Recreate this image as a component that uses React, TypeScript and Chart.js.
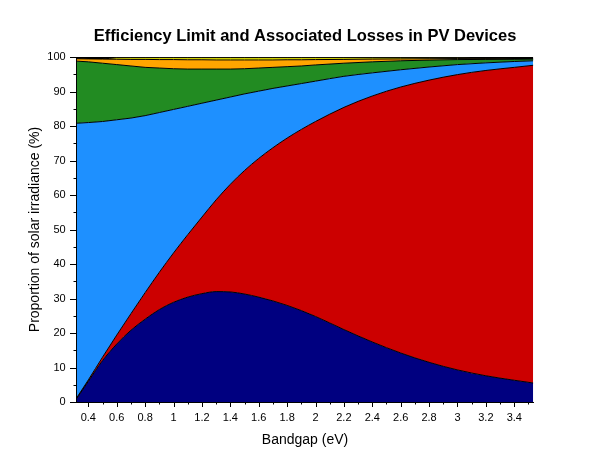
import React, { useEffect, useRef } from 'react';
import { Chart, registerables } from 'chart.js';

Chart.register(...registerables);

// Bandgap (eV) sample positions
const bandgap = [0.318, 0.4, 0.5, 0.6, 0.7, 0.8, 0.9, 1.0, 1.1, 1.2, 1.3, 1.4, 1.5, 1.6, 1.7, 1.8, 1.9, 2.0, 2.2, 2.4, 2.6, 2.8, 3.0, 3.2, 3.4, 3.534];

// Upper boundary (cumulative %) of each band, bottom to top
const efficiencyTop = [1.0, 6.0, 12.0, 16.8, 20.8, 24.0, 26.8, 28.9, 30.4, 31.4, 32.0, 31.9, 31.3, 30.4, 29.3, 28.0, 26.5, 24.8, 21.0, 17.4, 14.2, 11.5, 9.3, 7.6, 6.3, 5.5];
const belowGapTop = [1.2, 6.4, 13.0, 19.4, 25.6, 31.7, 37.6, 43.2, 48.5, 53.6, 58.6, 63.1, 67.1, 70.6, 73.7, 76.5, 79.0, 81.3, 85.4, 88.7, 91.3, 93.3, 94.9, 96.1, 97.0, 97.6];
const thermalTop = [80.8, 81.0, 81.3, 81.8, 82.3, 83.0, 83.9, 84.8, 85.7, 86.6, 87.5, 88.4, 89.3, 90.1, 90.9, 91.6, 92.3, 93.0, 94.4, 95.4, 96.3, 97.1, 97.8, 98.3, 98.7, 98.9];
const extractionTop = [98.8, 98.6, 98.2, 97.8, 97.4, 97.0, 96.8, 96.6, 96.5, 96.5, 96.5, 96.5, 96.6, 96.8, 97.0, 97.2, 97.4, 97.7, 98.2, 98.6, 98.9, 99.1, 99.25, 99.3, 99.35, 99.4];
const boltzmannTop = [99.5, 99.45, 99.4, 99.35, 99.3, 99.3, 99.25, 99.25, 99.2, 99.2, 99.15, 99.15, 99.15, 99.15, 99.15, 99.2, 99.2, 99.25, 99.3, 99.4, 99.45, 99.5, 99.55, 99.5, 99.45, 99.4];
const emissionTop = [99.5, 99.45, 99.42, 99.8, 99.8, 99.8, 99.8, 99.8, 99.8, 99.8, 99.8, 99.8, 99.8, 99.8, 99.8, 99.8, 99.8, 99.8, 99.8, 99.8, 99.8, 99.8, 99.8, 99.55, 99.45, 99.4];
const otherTop = [100, 100, 100, 100, 100, 100, 100, 100, 100, 100, 100, 100, 100, 100, 100, 100, 100, 100, 100, 100, 100, 100, 100, 100, 100, 100];

const bandNames = ['Efficiency limit', 'Below bandgap', 'Thermalisation', 'Extraction', 'Boltzmann', 'Emission', 'Other'];
const bandColors = ['#000080', '#CC0000', '#1E90FF', '#228B22', '#FFA500', '#FFFF00', '#000000'];
const bandSeries = [efficiencyTop, belowGapTop, thermalTop, extractionTop, boltzmannTop, emissionTop, otherTop];

const xMajorTicks = [0.4, 0.6, 0.8, 1.0, 1.2, 1.4, 1.6, 1.8, 2.0, 2.2, 2.4, 2.6, 2.8, 3.0, 3.2, 3.4];
const xMinorTicks = [0.5, 0.7, 0.9, 1.1, 1.3, 1.5, 1.7, 1.9, 2.1, 2.3, 2.5, 2.7, 2.9, 3.1, 3.3, 3.5];
const yMajorTicks = [0, 10, 20, 30, 40, 50, 60, 70, 80, 90, 100];
const yMinorTicks = [5, 15, 25, 35, 45, 55, 65, 75, 85, 95];

const FONT = "'Liberation Sans', Arial, sans-serif";

const isIn = (arr: number[], v: number) => arr.some((m) => Math.abs(m - v) < 1e-6);
const fmt = (v: number) => {
  const r = Math.round(v * 10) / 10;
  return Number.isInteger(r) ? String(r) : r.toFixed(1);
};

export default function App() {
  const ref = useRef<HTMLCanvasElement>(null);

  useEffect(() => {
    if (!ref.current) return;

    const tickMarks = {
      id: 'tickMarks',
      afterDraw(chart: any) {
        const { ctx, chartArea } = chart;
        const xs = chart.scales.x;
        const ys = chart.scales.y;
        ctx.save();
        ctx.strokeStyle = '#000';
        ctx.lineWidth = 1;
        ctx.beginPath();
        const b = Math.round(chartArea.bottom);
        xs.ticks.forEach((t: any) => {
          const p = Math.round(xs.getPixelForValue(t.value)) + 0.5;
          const len = isIn(xMajorTicks, t.value) ? 5 : 2.5;
          ctx.moveTo(p, b);
          ctx.lineTo(p, b + len);
        });
        const l = Math.round(chartArea.left);
        ys.ticks.forEach((t: any) => {
          const p = Math.round(ys.getPixelForValue(t.value)) + 0.5;
          const len = isIn(yMajorTicks, t.value) ? 7 : 3.5;
          ctx.moveTo(l, p);
          ctx.lineTo(l - len, p);
        });
        ctx.stroke();
        ctx.restore();
      },
    };

    const chart = new Chart(ref.current, {
      type: 'line',
      data: {
        datasets: bandSeries.map((series, i) => ({
          label: bandNames[i],
          data: bandgap.map((x, j) => ({ x, y: series[j] })),
          backgroundColor: bandColors[i],
          borderColor: '#000',
          borderWidth: 1,
          pointRadius: 0,
          fill: i === 0 ? 'origin' : '-1',
          cubicInterpolationMode: 'monotone',
        })),
      },
      options: {
        responsive: false,
        animation: false,
        layout: { padding: 0 },
        plugins: {
          legend: { display: false },
          tooltip: { enabled: false },
          title: {
            display: true,
            text: 'Efficiency Limit and Associated Losses in PV Devices',
            color: '#000',
            font: { family: FONT, size: 16.5, weight: 'bold' },
            padding: { top: 27, bottom: 10.2 },
          },
        },
        scales: {
          x: {
            type: 'linear',
            min: 0.318,
            max: 3.534,
            afterBuildTicks: (s: any) => {
              s.ticks = [...xMajorTicks, ...xMinorTicks].sort((a, b) => a - b).map((v) => ({ value: v }));
            },
            afterFit: (s: any) => {
              s.height = 58;
            },
            ticks: {
              autoSkip: false,
              maxRotation: 0,
              color: '#000',
              font: { family: FONT, size: 11 },
              padding: 4,
              callback: (v: any) => (isIn(xMajorTicks, Number(v)) ? fmt(Number(v)) : ''),
            },
            grid: { display: true, drawOnChartArea: false, drawTicks: true, tickLength: 5, color: 'rgba(0,0,0,0)' },
            border: { display: true, color: '#000', width: 1 },
            title: {
              display: true,
              text: 'Bandgap (eV)',
              color: '#000',
              font: { family: FONT, size: 14 },
              padding: { top: 0, bottom: 11.6 },
            },
          },
          y: {
            type: 'linear',
            min: 0,
            max: 100,
            afterBuildTicks: (s: any) => {
              s.ticks = [...yMajorTicks, ...yMinorTicks].sort((a, b) => a - b).map((v) => ({ value: v }));
            },
            afterFit: (s: any) => {
              s.width = 76.7;
            },
            ticks: {
              autoSkip: false,
              color: '#000',
              font: { family: FONT, size: 11 },
              padding: 3,
              callback: (v: any) => (isIn(yMajorTicks, Number(v)) ? String(v) : ''),
            },
            grid: { display: true, drawOnChartArea: false, drawTicks: true, tickLength: 8, color: 'rgba(0,0,0,0)' },
            border: { display: true, color: '#000', width: 1 },
            title: {
              display: true,
              text: 'Proportion of solar irradiance (%)',
              color: '#000',
              font: { family: FONT, size: 14 },
              padding: { top: 27, bottom: 0 },
            },
          },
          y2: {
            type: 'linear',
            position: 'right',
            display: true,
            afterFit: (s: any) => {
              s.width = 76.7;
            },
            ticks: { display: false },
            grid: { display: false, drawTicks: false },
            border: { display: false },
          },
        },
      } as any,
      plugins: [tickMarks],
    });

    return () => chart.destroy();
  }, []);

  return (
    <div style={{ position: 'fixed', left: 0, top: 0, width: 610, height: 460, background: '#fff' }}>
      <canvas ref={ref} width={610} height={460} />
    </div>
  );
}
